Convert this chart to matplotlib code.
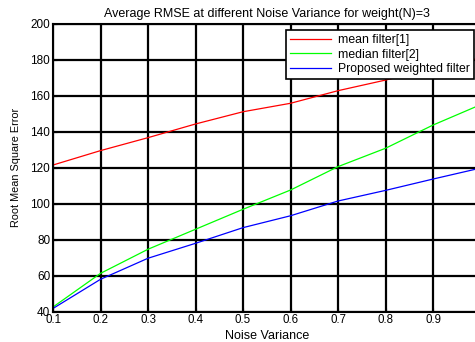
import matplotlib
matplotlib.use("Agg")
import matplotlib.pyplot as plt

plt.rcParams['font.family'] = ['Liberation Sans', 'DejaVu Sans']

noise_variance = [0.1, 0.2, 0.3, 0.4, 0.5, 0.6, 0.7, 0.8, 0.9, 1.0]
mean_filter = [121.5, 129.5, 136.7, 144.3, 151.1, 155.8, 162.8, 168.7, 175.0, 181.0]
median_filter = [42.6, 61.3, 74.7, 85.8, 96.9, 107.6, 120.6, 130.8, 143.7, 155.0]
proposed_filter = [41.8, 58.0, 69.7, 78.0, 86.7, 93.3, 101.5, 107.4, 113.7, 119.8]
labels = ['mean filter[1]', 'median filter[2]', 'Proposed weighted filter']
xticks = [0.1, 0.2, 0.3, 0.4, 0.5, 0.6, 0.7, 0.8, 0.9]
yticks = [40, 60, 80, 100, 120, 140, 160, 180, 200]

fig = plt.figure(figsize=(4.75, 3.42), dpi=100)
ax = fig.add_axes([0.1116, 0.0886, 0.9, 0.842])

ax.plot(noise_variance, mean_filter, color='#ff0000', lw=0.9, label=labels[0])
ax.plot(noise_variance, median_filter, color='#00ff00', lw=0.9, label=labels[1])
ax.plot(noise_variance, proposed_filter, color='#0000ff', lw=0.9, label=labels[2])

ax.set_xlim(0.1, 1.0)
ax.set_ylim(40, 200)
ax.set_xticks(xticks)
ax.set_xticklabels([f'{v:g}' for v in xticks])
ax.set_yticks(yticks)
ax.grid(True, color='black', lw=1.6, ls='-')
ax.set_axisbelow(True)
ax.tick_params(direction='in', length=3, pad=2)
ax.tick_params(axis='y', labelsize=8.5)
ax.tick_params(axis='x', labelsize=8.3, pad=1.5)
for s in ax.spines.values():
    s.set_linewidth(1.5)

ax.set_title('Average RMSE at different Noise Variance for weight(N)=3', fontsize=9, pad=5)
ax.set_xlabel('Noise Variance', fontsize=9, labelpad=3)
ax.set_ylabel('Root Mean Square Error', fontsize=7.8, labelpad=7)

leg = ax.legend(loc='upper right', bbox_to_anchor=(474/475, 1 - 30/342),
                bbox_transform=fig.transFigure, fontsize=8.8, fancybox=False,
                framealpha=1, edgecolor='black', borderaxespad=0,
                handlelength=3.3, labelspacing=0.2, borderpad=0.35,
                handletextpad=0.6)
leg.get_frame().set_linewidth(1.2)

fig.savefig('out.png', dpi=100)
